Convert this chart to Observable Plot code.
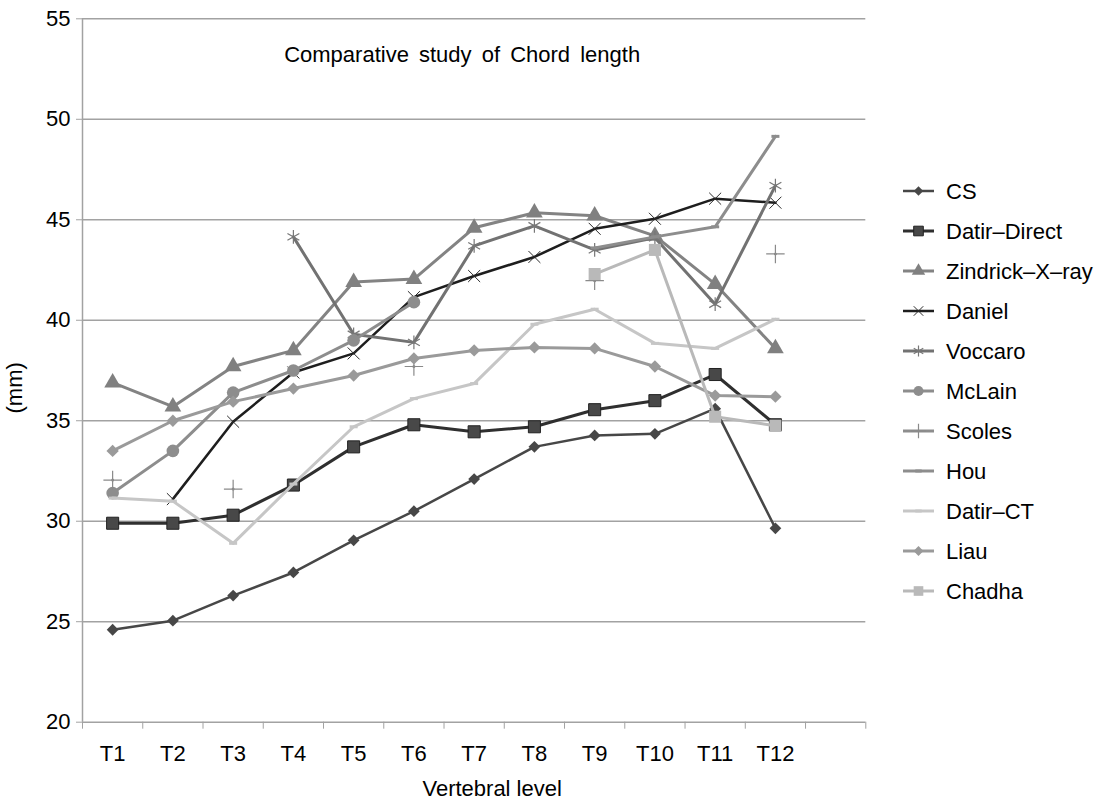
<!DOCTYPE html>
<html>
<head>
<meta charset="utf-8">
<script src="https://cdn.jsdelivr.net/npm/d3@7"></script>
<script src="https://cdn.jsdelivr.net/npm/@observablehq/plot@0.6"></script>
<style>
  body { margin: 0; background: #fff; }
  #chart { width: 1099px; height: 800px; }
</style>
</head>
<body>
<div id="chart"></div>
<script>
// ---- data ----
const levels = ["T1","T2","T3","T4","T5","T6","T7","T8","T9","T10","T11","T12"];
const yTicks = [20, 25, 30, 35, 40, 45, 50, 55];
const seriesNames = ["CS","Datir–Direct","Zindrick–X–ray","Daniel","Voccaro","McLain","Scoles","Hou","Datir–CT","Liau","Chadha"];

const CS          = [24.6, 25.05, 26.3, 27.45, 29.05, 30.5, 32.1, 33.7, 34.27, 34.35, 35.6, 29.65];
const datirDirect = [29.9, 29.9, 30.3, 31.8, 33.7, 34.8, 34.45, 34.7, 35.55, 36.0, 37.3, 34.8];
const zindrick    = [36.9, 35.7, 37.7, 38.5, 41.9, 42.05, 44.6, 45.35, 45.2, 44.2, 41.8, 38.6];
const daniel      = [null, 31.1, 34.95, 37.4, 38.35, 41.15, 42.2, 43.15, 44.55, 45.05, 46.05, 45.85];
const voccaro     = [null, null, null, 44.15, 39.3, 38.9, 43.7, 44.7, 43.5, 44.1, 40.8, 46.7];
const mcLain      = [31.4, 33.5, 36.4, 37.5, 39.0, 40.9, null, null, null, null, null, null];
const scoles      = [32.05, null, 31.6, null, null, 37.7, null, null, 41.97, null, null, 43.3];
const hou         = [null, null, null, null, null, null, null, null, 43.6, 44.15, 44.65, 49.15];
const datirCT     = [31.15, 31.0, 28.9, 31.85, 34.7, 36.1, 36.85, 39.8, 40.55, 38.85, 38.6, 40.05];
const liau        = [33.5, 35.0, 35.95, 36.6, 37.25, 38.1, 38.5, 38.65, 38.6, 37.7, 36.25, 36.2];
const chadha      = [null, null, null, null, null, null, null, null, 42.3, 43.5, 35.2, 34.75];

const seriesValues = [CS, datirDirect, zindrick, daniel, voccaro, mcLain, scoles, hou, datirCT, liau, chadha];

// ---- styles ----
const dash = {
  draw(context, size) {
    const r = Math.sqrt(size / Math.PI);
    context.moveTo(-r, 0);
    context.lineTo(r, 0);
  }
};
const rhombus = {
  draw(context, size) {
    const r = Math.sqrt(size / Math.PI) * 1.4;
    context.moveTo(0, -r);
    context.lineTo(r, 0);
    context.lineTo(0, r);
    context.lineTo(-r, 0);
    context.closePath();
  }
};
const styles = [
  {line: "#474747", sw: 2.5, sym: rhombus,    r: 4.2, fill: "#474747", mstroke: "none"},
  {line: "#2f2f2f", sw: 3,   sym: "square",   r: 6.8, fill: "#484848", mstroke: "#222", msw: 1},
  {line: "#838383", sw: 3,   sym: "triangle", r: 6.2, fill: "#808080", mstroke: "none"},
  {line: "#1e1e1e", sw: 2.5, sym: "times",    r: 5.5, fill: "none",    mstroke: "#2a2a2a", msw: 1},
  {line: "#727272", sw: 3,   sym: "asterisk", r: 6.5, fill: "none",    mstroke: "#777", msw: 1.2},
  {line: "#8d8d8d", sw: 3,   sym: "circle",   r: 6.3, fill: "#8d8d8d", mstroke: "none"},
  {line: "#8d8d8d", sw: 3,   sym: "plus",     r: 6,   fill: "none",    mstroke: "#8a8a8a", msw: 1.2},
  {line: "#8d8d8d", sw: 3,   sym: dash,       r: 4,   fill: "none",    mstroke: "#8d8d8d", msw: 3},
  {line: "#c6c6c6", sw: 3,   sym: dash,       r: 4,   fill: "none",    mstroke: "#c6c6c6", msw: 3},
  {line: "#9a9a9a", sw: 3,   sym: rhombus,    r: 4.4, fill: "#9a9a9a", mstroke: "none"},
  {line: "#b9b9b9", sw: 3,   sym: "square",   r: 6.8, fill: "#b9b9b9", mstroke: "none"}
];

const font = "'Liberation Sans', Arial, Helvetica, sans-serif";
const gridColor = "#a2a2a2";

// rows per series
const seriesRows = seriesValues.map((vals, s) =>
  vals.map((v, i) => ({series: seriesNames[s], i: i + 1, v: v == null ? NaN : v}))
);

const seriesMarks = [];
seriesRows.forEach((rows, s) => {
  const st = styles[s];
  seriesMarks.push(Plot.line(rows, {x: "i", y: "v", stroke: st.line, strokeWidth: st.sw, strokeLinejoin: "round"}));
  seriesMarks.push(Plot.dot(rows.filter(d => !isNaN(d.v)), {
    x: "i", y: "v", symbol: st.sym, r: st.r,
    fill: st.fill, stroke: st.mstroke, strokeWidth: st.msw || 1
  }));
});

const boundaries = d3.range(0.5, 14, 1);
const centers = levels.map((d, i) => i + 1);
const titleText = "Comparative study of Chord length";

const plot = Plot.plot({
  width: 1099,
  height: 800,
  marginLeft: 82,
  marginRight: 233.7,
  marginTop: 18.3,
  marginBottom: 78.3,
  x: {domain: [0.5, 13.5], axis: null},
  y: {domain: [20, 55], axis: null},
  style: {fontFamily: font, fontSize: "22px", color: "#000", background: "#fff"},
  marks: [
    Plot.gridY(yTicks, {stroke: gridColor, strokeOpacity: 1, strokeWidth: 1.5}),
    Plot.ruleX([0.5], {stroke: gridColor, strokeWidth: 1.5}),
    Plot.axisY(yTicks, {tickSize: 6, tickPadding: 6, stroke: gridColor, fill: "#000", fontSize: 22, label: null}),
    Plot.axisX(boundaries, {tickSize: 7, tickFormat: () => "", stroke: gridColor, label: null}),
    Plot.axisX(centers, {tickSize: 0, tickPadding: 23, tickFormat: i => levels[i - 1], fill: "#000", fontSize: 22, label: null}),
    ...seriesMarks,
    Plot.text([titleText], {text: d => d, frameAnchor: "top", dx: -12, dy: 36, fontSize: 22, lineAnchor: "middle", fill: "#000"}),
    Plot.text(["(mm)"], {text: d => d, frameAnchor: "left", dx: -68, dy: 43, rotate: -90, fontSize: 22, lineAnchor: "middle", fill: "#000"}),
    Plot.text(["Vertebral level"], {text: d => d, frameAnchor: "bottom", dx: 18, dy: 67, fontSize: 22, lineAnchor: "middle", fill: "#000"})
  ]
});

document.getElementById("chart").appendChild(plot);

const svg = d3.select(plot);
// wider word spacing in the title, as in the reference
svg.selectAll("text").filter(function() { return this.textContent === titleText; })
  .style("word-spacing", "4px");

// ---- legend ----
const d3sym = {
  diamond: d3.symbolDiamond, square: d3.symbolSquare, triangle: d3.symbolTriangle,
  times: d3.symbolTimes, asterisk: d3.symbolAsterisk, circle: d3.symbolCircle, plus: d3.symbolPlus
};
const lg = svg.append("g")
  .attr("font-family", font).attr("font-size", 22)
  .attr("text-anchor", "start").style("text-anchor", "start");
seriesNames.forEach((name, s) => {
  const st = styles[s];
  const y = 191 + 40 * s;
  const row = lg.append("g").attr("transform", `translate(0,${y})`);
  row.append("line").attr("x1", 903).attr("x2", 934).attr("y1", 0).attr("y2", 0)
    .attr("stroke", st.line).attr("stroke-width", st.sw);
  const type = typeof st.sym === "string" ? d3sym[st.sym] : st.sym;
  const rr = st.r * 0.8;
  row.append("path")
    .attr("transform", "translate(918.5,0)")
    .attr("d", d3.symbol().type(type).size(Math.PI * rr * rr)())
    .attr("fill", st.fill)
    .attr("stroke", st.mstroke)
    .attr("stroke-width", st.msw || 1);
  row.append("text").attr("x", 946).attr("y", 0).attr("dy", "0.35em")
    .attr("fill", "#000").style("text-anchor", "start").text(name);
});
</script>
</body>
</html>
